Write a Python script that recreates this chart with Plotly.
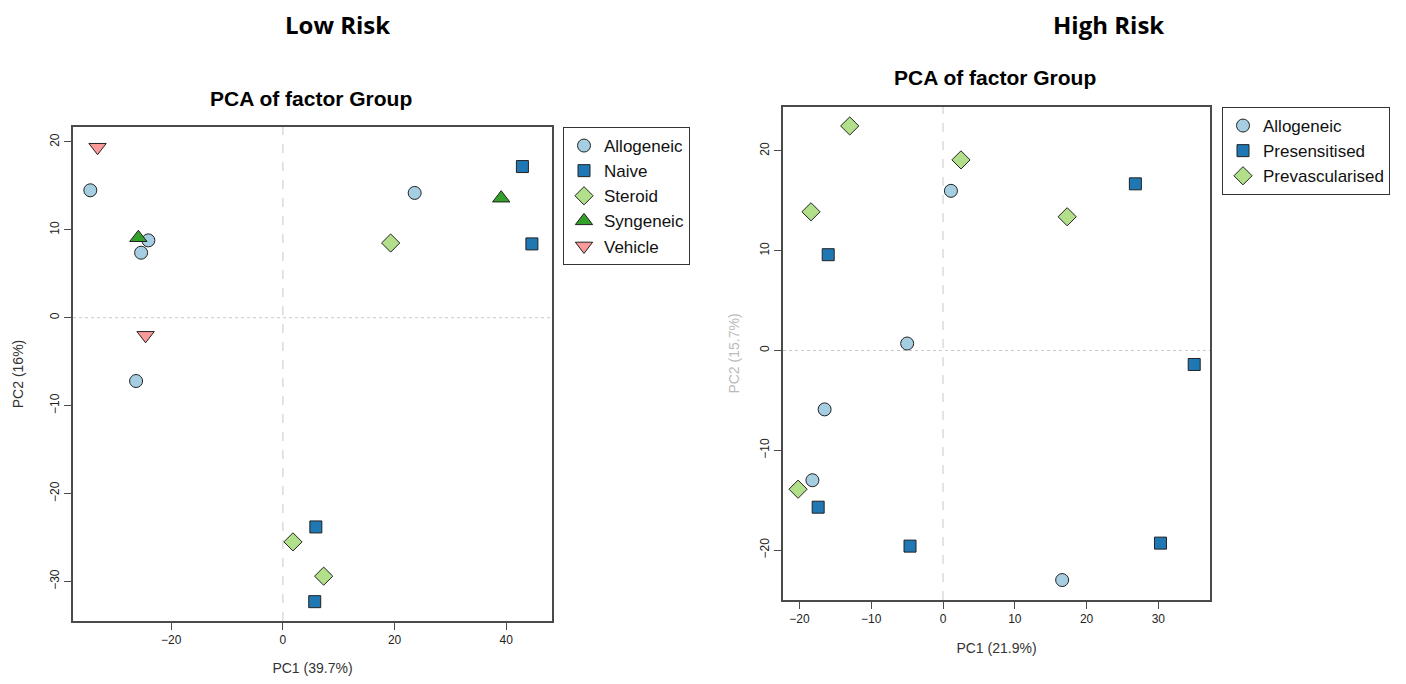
import plotly.graph_objects as go

W, H = 1406, 684
OFF = 8  # default page body margin
FW, FH = W - 2 * OFF, H - 2 * OFF

# ---------------- Low Risk data ----------------
low_groups = ["Allogeneic", "Naive", "Steroid", "Syngeneic", "Vehicle"]
low_allo_x = [-34.5, -24.1, -25.4, -26.3, 23.6]
low_allo_y = [14.5, 8.8, 7.4, -7.2, 14.2]
low_naive_x = [42.9, 44.6, 5.9, 5.7]
low_naive_y = [17.2, 8.4, -23.8, -32.3]
low_ster_x = [19.3, 1.8, 7.3]
low_ster_y = [8.5, -25.5, -29.4]
low_syn_x = [-25.9, 39.1]
low_syn_y = [9.1, 13.6]
low_veh_x = [-33.2, -24.6]
low_veh_y = [19.4, -2.0]
low_xticks = [-20, 0, 20, 40]
low_yticks = [-30, -20, -10, 0, 10, 20]

# ---------------- High Risk data ----------------
high_groups = ["Allogeneic", "Presensitised", "Prevascularised"]
high_allo_x = [1.1, -5.0, -16.5, -18.2, 16.6]
high_allo_y = [16.0, 0.7, -5.9, -13.0, -23.0]
high_pres_x = [-16.0, 26.8, 35.0, -17.4, -4.6, 30.3]
high_pres_y = [9.6, 16.7, -1.4, -15.7, -19.6, -19.3]
high_prev_x = [-13.0, -18.4, 2.5, 17.3, -20.2]
high_prev_y = [22.5, 13.9, 19.1, 13.4, -13.9]
high_xticks = [-20, -10, 0, 10, 20, 30]
high_yticks = [-20, -10, 0, 10, 20]

FONT = "Liberation Sans"
OUT = "#222222"

styles = {
    "Allogeneic": dict(symbol="circle", color="#a6cee3", size=13),
    "Naive": dict(symbol="square", color="#1f78b4", size=12),
    "Presensitised": dict(symbol="square", color="#1f78b4", size=12),
    "Steroid": dict(symbol="diamond", color="#b2df8a", size=14),
    "Prevascularised": dict(symbol="diamond", color="#b2df8a", size=14),
    "Syngeneic": dict(symbol="triangle-up", color="#33a02c", size=15),
    "Vehicle": dict(symbol="triangle-down", color="#fb9a99", size=15),
}

fig = go.Figure()

def add(name, xs, ys, xa, ya, legend):
    s = styles[name]
    fig.add_trace(go.Scatter(
        x=xs, y=ys, mode="markers", name=name, xaxis=xa, yaxis=ya, legend=legend,
        marker=dict(symbol=s["symbol"], color=s["color"], size=s["size"],
                    line=dict(color=OUT, width=1)),
    ))

add("Allogeneic", low_allo_x, low_allo_y, "x", "y", "legend")
add("Naive", low_naive_x, low_naive_y, "x", "y", "legend")
add("Steroid", low_ster_x, low_ster_y, "x", "y", "legend")
add("Syngeneic", low_syn_x, low_syn_y, "x", "y", "legend")
add("Vehicle", low_veh_x, low_veh_y, "x", "y", "legend")

add("Allogeneic", high_allo_x, high_allo_y, "x2", "y2", "legend2")
add("Presensitised", high_pres_x, high_pres_y, "x2", "y2", "legend2")
add("Prevascularised", high_prev_x, high_prev_y, "x2", "y2", "legend2")

def px_x(p):
    return (p - OFF) / FW

def px_y(p):
    return 1 - (p - OFF) / FH

axis_common = dict(
    showgrid=False, zeroline=False, showline=True, linecolor="#4a4a4a", linewidth=1.5,
    mirror=True, ticks="outside", ticklen=7, tickcolor="#4a4a4a", tickwidth=1,
    tickfont=dict(family=FONT, size=12, color="#222222"),
)

title_font = dict(family=FONT, size=14, color="#333")

fig.update_layout(
    width=FW, height=FH,
    margin=dict(l=0, r=0, t=0, b=0),
    paper_bgcolor="white", plot_bgcolor="white",
    showlegend=True,
    xaxis=dict(domain=[px_x(73), px_x(552)], range=[-37.6, 48.2], tickvals=low_xticks,
               title=dict(text="PC1 (39.7%)", font=title_font, standoff=20),
               anchor="y", **axis_common),
    yaxis=dict(domain=[px_y(621), px_y(127)], range=[-34.5, 21.7], tickvals=low_yticks,
               tickangle=-90,
               title=dict(text="PC2 (16%)", font=title_font, standoff=22),
               anchor="x", **axis_common),
    xaxis2=dict(domain=[px_x(783), px_x(1210)], range=[-22.3, 37.2], tickvals=high_xticks,
                title=dict(text="PC1 (21.9%)", font=title_font, standoff=18),
                anchor="y2", **axis_common),
    yaxis2=dict(domain=[px_y(600), px_y(107)], range=[-25.0, 24.4], tickvals=high_yticks,
                tickangle=-90,
                title=dict(text="PC2 (15.7%)", font=dict(family=FONT, size=14, color="#bbbbbb"), standoff=16),
                anchor="x2", **axis_common),
    legend=dict(x=px_x(563), y=px_y(127), xanchor="left", yanchor="top",
                bordercolor="#333333", borderwidth=1, bgcolor="white",
                font=dict(family=FONT, size=17, color="#111"), tracegroupgap=0,
                itemsizing="trace"),
    legend2=dict(x=px_x(1222), y=px_y(107), xanchor="left", yanchor="top",
                 bordercolor="#333333", borderwidth=1, bgcolor="white",
                 font=dict(family=FONT, size=17, color="#111"), tracegroupgap=0,
                 itemsizing="trace"),
)

# dashed reference lines at 0
for xa, ya in [("x", "y"), ("x2", "y2")]:
    fig.add_shape(type="line", xref=xa, yref=f"{ya} domain", x0=0, x1=0, y0=0, y1=1,
                  line=dict(color="#c8c8c8", width=1, dash="dash"), layer="below")
    fig.add_shape(type="line", xref=f"{xa} domain", yref=ya, x0=0, x1=1, y0=0, y1=0,
                  line=dict(color="#c8c8c8", width=1.2, dash="dot"), layer="below")

# titles
def title(text, cx, cy, family, size):
    fig.add_annotation(text=f"<b>{text}</b>", x=px_x(cx), y=px_y(cy), xref="paper", yref="paper",
                       xanchor="center", yanchor="middle", showarrow=False,
                       font=dict(family=family, size=size, color="black"))

title("Low Risk", 337, 25, "Open Sans", 24)
title("High Risk", 1108, 25, "Open Sans", 24)
title("PCA of factor Group", 311, 98, FONT, 21)
title("PCA of factor Group", 995, 77, FONT, 21)

fig.write_html("out.html")
